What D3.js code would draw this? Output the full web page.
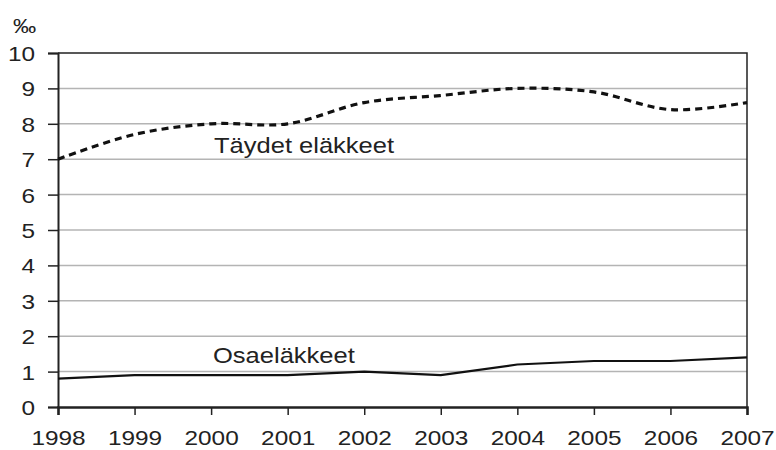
<!DOCTYPE html>
<html lang="fi">
<head>
<meta charset="UTF-8">
<style>
    body { margin: 0; background: #fff; }
    text { font-family: "Liberation Sans", Arial, sans-serif; fill: #222; }
    .tick text { font-size: 21px; }
    .grid line { stroke: #b4b4b4; stroke-width: 1.5px; }
</style>
<script src="https://cdn.jsdelivr.net/npm/d3@7/dist/d3.min.js"></script>
</head>
<body>
<div id="chart"></div>
<script>
    const years = [1998, 1999, 2000, 2001, 2002, 2003, 2004, 2005, 2006, 2007];
    const taydet = [7.0, 7.7, 8.0, 8.0, 8.6, 8.8, 9.0, 8.9, 8.4, 8.6];
    const osa = [0.8, 0.9, 0.9, 0.9, 1.0, 0.9, 1.2, 1.3, 1.3, 1.4];
    const yTicks = [0, 1, 2, 3, 4, 5, 6, 7, 8, 9, 10];

    const margin = {top: 53, right: 29, bottom: 43, left: 58},
        width = 776 - margin.left - margin.right,
        height = 450 - margin.top - margin.bottom;
    const stretch = 1.16; // glyphs in the original are a bit wider than Liberation

    const svg = d3.select("#chart").append("svg")
        .attr("width", 776)
        .attr("height", 450)
        .append("g")
        .attr("transform", "translate(" + margin.left + "," + margin.top + ")");

    const x = d3.scaleLinear().domain([1998, 2007]).range([0, width]);
    const y = d3.scaleLinear().domain([0, 10]).range([height, 0]);

    // gridlines
    svg.append("g")
        .attr("class", "grid")
        .selectAll("line")
        .data(yTicks.slice(1, -1))
        .enter().append("line")
        .attr("x1", 0).attr("x2", width)
        .attr("y1", d => y(d)).attr("y2", d => y(d));

    // frame top + right
    svg.append("path")
        .attr("d", "M0," + y(10) + "H" + width + "V" + height)
        .attr("fill", "none")
        .attr("stroke", "#222")
        .attr("stroke-width", 1.5);

    const yAxis = svg.append("g")
        .call(d3.axisLeft(y).tickValues(yTicks).tickSize(10).tickFormat(d3.format("d")));
    yAxis.select(".domain").attr("stroke", "#222").attr("stroke-width", 2);
    yAxis.selectAll(".tick line").attr("stroke", "#222").attr("stroke-width", 1.5);
    yAxis.selectAll(".tick text")
        .attr("x", -23 / stretch)
        .attr("dy", "0.36em")
        .attr("transform", "scale(" + stretch + ",1)");

    const xAxis = svg.append("g")
        .attr("transform", "translate(0," + height + ")")
        .call(d3.axisBottom(x).tickValues(years).tickSize(8).tickFormat(d3.format("d")));
    xAxis.select(".domain").attr("stroke", "#222").attr("stroke-width", 2.5);
    xAxis.selectAll(".tick line").attr("stroke", "#222").attr("stroke-width", 1.5);
    xAxis.selectAll(".tick text")
        .attr("y", 38)
        .attr("dy", 0)
        .attr("transform", "scale(" + stretch + ",1)");

    const line = d3.line()
        .x((d, i) => x(years[i]))
        .y(d => y(d));

    svg.append("path")
        .datum(taydet)
        .attr("fill", "none")
        .attr("stroke", "#111")
        .attr("stroke-width", 3.2)
        .attr("stroke-dasharray", "7,5")
        .attr("d", line.curve(d3.curveCatmullRom.alpha(0.5)));

    svg.append("path")
        .datum(osa)
        .attr("fill", "none")
        .attr("stroke", "#111")
        .attr("stroke-width", 2.2)
        .attr("d", line.curve(d3.curveLinear));

    function label(px, py, size, txt) {
        svg.append("text")
            .attr("transform", "translate(" + (px - margin.left) + "," + (py - margin.top) + ") scale(" + stretch + ",1)")
            .style("font-size", size + "px")
            .text(txt);
    }
    label(214, 153, 22, "Täydet eläkkeet");
    label(213, 363, 22, "Osaeläkkeet");
    label(13, 33, 20, "‰");
</script>
</body>
</html>
